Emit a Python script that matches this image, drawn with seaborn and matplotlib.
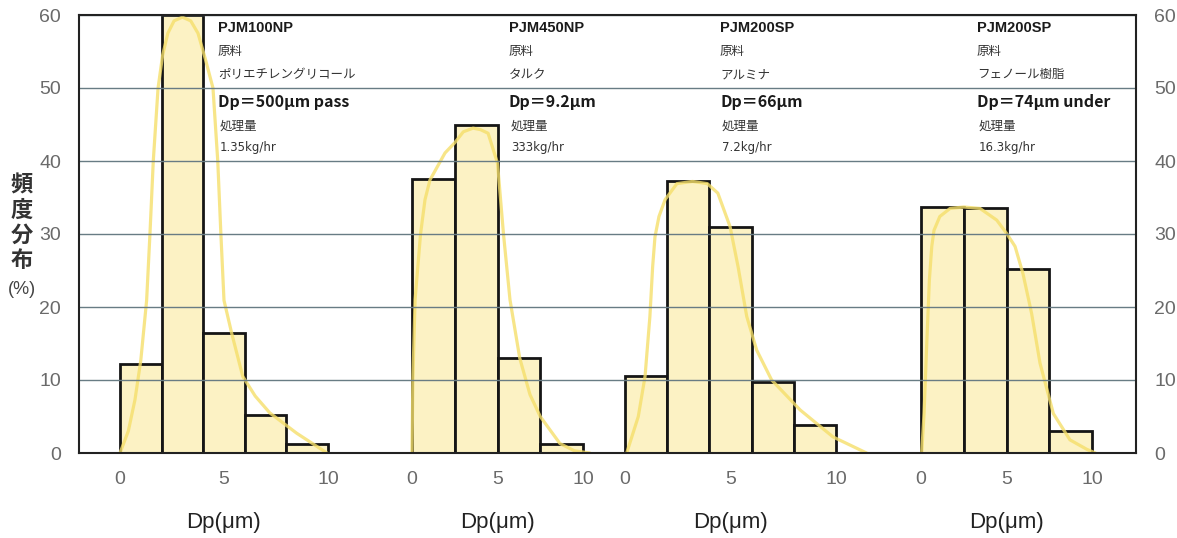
import numpy as np
import seaborn as sns
import matplotlib.pyplot as plt

# histogram bins (Dp, um) and frequency (%) for each machine
p1_edges = [0, 2, 4, 6, 8, 10]
p1_vals = [12.2, 60, 16.5, 5.2, 1.3]
p2_edges = [0, 2.5, 5, 7.5, 10]
p2_vals = [37.5, 45, 13, 1.3]
p3_edges = [0, 2, 4, 6, 8, 10]
p3_vals = [10.5, 37.3, 31, 9.7, 3.8]
p4_edges = [0, 2.5, 5, 7.5, 10]
p4_vals = [33.7, 33.6, 25.2, 3.0]

# smooth distribution curves
p1_cx = [0, 0.4, 0.72, 1.0, 1.28, 1.44, 1.6, 1.83, 2.05, 2.3, 2.6, 3.0, 3.4, 3.75, 4.1,
         4.47, 4.7, 4.85, 5.0, 5.37, 5.9, 6.5, 7.2, 8.5, 9.95]
p1_cy = [0, 3, 7.3, 12.7, 20.9, 30, 40, 50, 54.5, 57.5, 59.2, 59.7, 59.2, 57.5, 54,
         50, 40, 30, 20.9, 16.4, 10.5, 7.8, 5.5, 2.7, 0]
p2_cx = [0, 0.05, 0.18, 0.5, 0.76, 1.05, 1.93, 2.5, 3.0, 3.57, 4.0, 4.45, 5.0,
         5.35, 5.73, 6.3, 6.9, 7.5, 8.65, 9.5, 10.4]
p2_cy = [0, 10, 21, 30, 34.7, 37.4, 41.1, 42.5, 44, 44.5, 44.3, 43.8, 39.7,
         30, 21, 13, 8, 5, 1.3, 0.3, 0]
p3_cx = [0.08, 0.63, 0.95, 1.18, 1.31, 1.42, 1.61, 1.9, 2.46, 3.2, 3.9, 4.4,
         4.98, 5.36, 5.77, 6.24, 6.95, 8.3, 9.86, 11.45]
p3_cy = [0, 5, 10.5, 18.7, 25.5, 29.6, 32.4, 34.7, 36.9, 37.2, 36.9, 35.6,
         31, 25.5, 18.7, 14.1, 10, 5.9, 2.2, 0]
p4_cx = [0.04, 0.18, 0.33, 0.49, 0.63, 0.76, 1.1, 1.7, 2.5, 3.45, 4.43, 5.0,
         5.5, 5.96, 6.47, 6.96, 7.74, 8.71, 9.7, 10.2]
p4_cy = [0, 5.5, 14.6, 23.7, 28.3, 30.5, 32.4, 33.5, 33.7, 33.5, 31.9, 30.1,
         28.3, 24.6, 19.1, 12.3, 5.4, 1.8, 0.5, 0]

models = ["PJM100NP", "PJM450NP", "PJM200SP", "PJM200SP"]
materials = ["ポリエチレングリコール", "タルク", "アルミナ", "フェノール樹脂"]
dp_notes = ["Dp＝500μm pass", "Dp＝9.2μm", "Dp＝66μm", "Dp＝74μm under"]
rates = ["1.35kg/hr", "333kg/hr", "7.2kg/hr", "16.3kg/hr"]

sns.set_theme(style="white")
plt.rcParams["font.family"] = ["Liberation Sans Narrow", "Liberation Sans", "Noto Sans CJK JP",
                               "DejaVu Sans"]

W, H = 1177, 538
fig = plt.figure(figsize=(W / 100, H / 100), dpi=100)
fig.patch.set_facecolor("white")

top_px, bot_px = 15, 453
main = fig.add_axes([79 / W, 1 - bot_px / H, (1136 - 79) / W, (bot_px - top_px) / H])
main.set_zorder(2)
main.patch.set_visible(False)
main.set_ylim(0, 60)
main.set_xlim(0, 1)
main.set_xticks([])
main.set_yticks(range(0, 61, 10))
main.tick_params(axis="y", left=False, right=False, labelleft=True, labelright=True,
                 labelsize=14, labelcolor="#6a6a6a", pad=7)
main.grid(axis="y", color="#687c84", linewidth=1)
for s in main.spines.values():
    s.set_color("#222222")
    s.set_linewidth(1.5)

bar_fill = "#fcf2c4"
curve_col = "#f5df6a"

panels = [
    (p1_edges, p1_vals, p1_cx, p1_cy, 120, 20.8),
    (p2_edges, p2_vals, p2_cx, p2_cy, 412, 17.1),
    (p3_edges, p3_vals, p3_cx, p3_cy, 625, 21.1),
    (p4_edges, p4_vals, p4_cx, p4_cy, 921, 17.1),
]
text_x_px = [218, 509, 720, 977]
x_lo, x_hi = -1.5, 11.5

for i, (edges, vals, cx, cy, o, sc) in enumerate(panels):
    left = o + x_lo * sc
    sax = fig.add_axes([left / W, 1 - bot_px / H, (x_hi - x_lo) * sc / W,
                        (bot_px - top_px) / H])
    sax.set_zorder(1)
    sax.patch.set_visible(False)
    centers = [(a + b) / 2 for a, b in zip(edges[:-1], edges[1:])]
    sns.histplot(x=centers, weights=vals, bins=edges, ax=sax, color=bar_fill,
                 edgecolor="#151515", linewidth=2, alpha=1)
    sns.lineplot(x=cx, y=cy, ax=sax, color=curve_col, linewidth=2.3, alpha=0.8,
                 estimator=None)
    sax.set_xlim(x_lo, x_hi)
    sax.set_ylim(0, 60)
    sax.set_yticks([])
    sax.set_ylabel("")
    sax.set_xticks([0, 5, 10])
    sax.tick_params(axis="x", length=0, pad=13, labelsize=14, labelcolor="#6a6a6a")
    sax.set_xlabel("Dp(μm)", fontsize=16, labelpad=17, color="#222222",
                   family=["Liberation Sans", "DejaVu Sans"])
    for s in sax.spines.values():
        s.set_visible(False)

    tx = (text_x_px[i] - o) / sc
    sax.text(tx, 58.2, models[i], fontsize=10.5, fontweight="bold", color="#1a1a1a",
             va="center", family=["Liberation Sans", "DejaVu Sans"])
    sax.text(tx, 55.0, "原料", fontsize=9, color="#333333", va="center",
             family=["Noto Sans CJK JP"])
    sax.text(tx, 51.8, materials[i], fontsize=9, color="#333333", va="center",
             family=["Noto Sans CJK JP"])
    sax.text(tx, 48.1, dp_notes[i], fontsize=11.5, fontweight="bold", color="#1a1a1a",
             va="center", family=["Noto Sans CJK JP", "DejaVu Sans"])
    sax.text(tx + 0.1, 44.8, "処理量", fontsize=9, color="#333333", va="center",
             family=["Noto Sans CJK JP"])
    sax.text(tx + 0.1, 41.9, rates[i], fontsize=8.5, color="#333333", va="center",
             family=["DejaVu Sans"])

fig.text(22 / W, 1 - 223 / H, "頻\n度\n分\n布", ha="center", va="center",
         fontsize=16, fontweight="bold", color="#333333", linespacing=1.12,
         family=["Noto Sans CJK JP"])
fig.text(22 / W, 1 - 290 / H, "(%)", ha="center", va="center", fontsize=13,
         color="#444444", family=["Liberation Sans", "DejaVu Sans"])

fig.savefig("out.png", dpi=100, facecolor="white")
